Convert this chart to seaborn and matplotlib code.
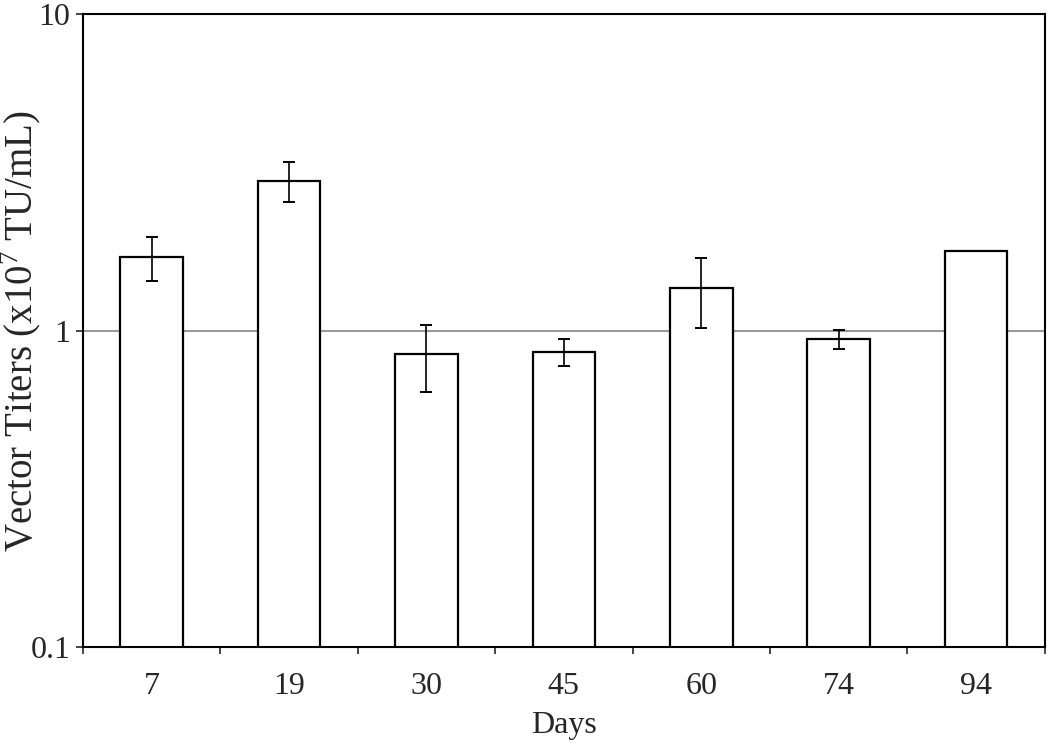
import numpy as np
import pandas as pd
import seaborn as sns
import matplotlib.pyplot as plt
from matplotlib.ticker import FixedLocator, FixedFormatter, NullLocator

days = ['7', '19', '30', '45', '60', '74', '94']
titers = [1.71, 2.97, 0.844, 0.858, 1.36, 0.943, 1.79]
err_upper = [1.98, 3.40, 1.04, 0.941, 1.70, 1.005, np.nan]
err_lower = [1.43, 2.54, 0.638, 0.771, 1.02, 0.875, np.nan]

df = pd.DataFrame({'Days': days, 'Titer': titers})

sns.set_style('white')
plt.rcParams['font.family'] = ['Liberation Serif', 'DejaVu Serif']
plt.rcParams['mathtext.fontset'] = 'custom'
plt.rcParams['mathtext.rm'] = 'Liberation Serif'

fig = plt.figure(figsize=(10.5, 7.43), dpi=100)
ax = fig.add_axes([0.079, 0.129, 0.916, 0.852])

ax.set_yscale('log')
sns.barplot(data=df, x='Days', y='Titer', order=days, color='white',
            edgecolor='black', linewidth=1.6, width=0.455, ax=ax, zorder=2)

# asymmetric error bars
t = np.array(titers)
yerr = np.array([t - np.array(err_lower), np.array(err_upper) - t])
ax.errorbar(np.arange(len(days)), t, yerr=yerr, fmt='none', ecolor='black',
            elinewidth=1.2, capsize=4, capthick=1.4, zorder=3)

ax.set_ylim(0.1, 10)
ax.set_xlim(-0.5, len(days) - 0.5)
ax.yaxis.set_major_locator(FixedLocator([0.1, 1, 10]))
ax.yaxis.set_major_formatter(FixedFormatter(['0.1', '1', '10']))
ax.yaxis.set_minor_locator(NullLocator())
ax.axhline(1, color='#999999', lw=1.5, zorder=0)

ax.set_xticks(np.arange(len(days)))
ax.set_xticklabels(days)
ax.set_xticks(np.arange(-0.5, len(days)), minor=True)
ax.tick_params(axis='x', which='major', length=0, pad=18, labelsize=23)
ax.tick_params(axis='x', which='minor', length=5, width=1.2, direction='out', bottom=True)
ax.tick_params(axis='y', which='major', length=5, width=1.2, direction='out', left=True, labelsize=23, pad=4)

for s in ax.spines.values():
    s.set_linewidth(1.5)
    s.set_color('black')

ax.set_xlabel('Days', fontsize=23, labelpad=7)
ax.set_ylabel(r'Vector Titers (x10$^{\mathrm{7}}$ TU/mL)', fontsize=28)
ax.yaxis.set_label_coords(-0.040, 0.5)

fig.savefig('out.png', dpi=100)
